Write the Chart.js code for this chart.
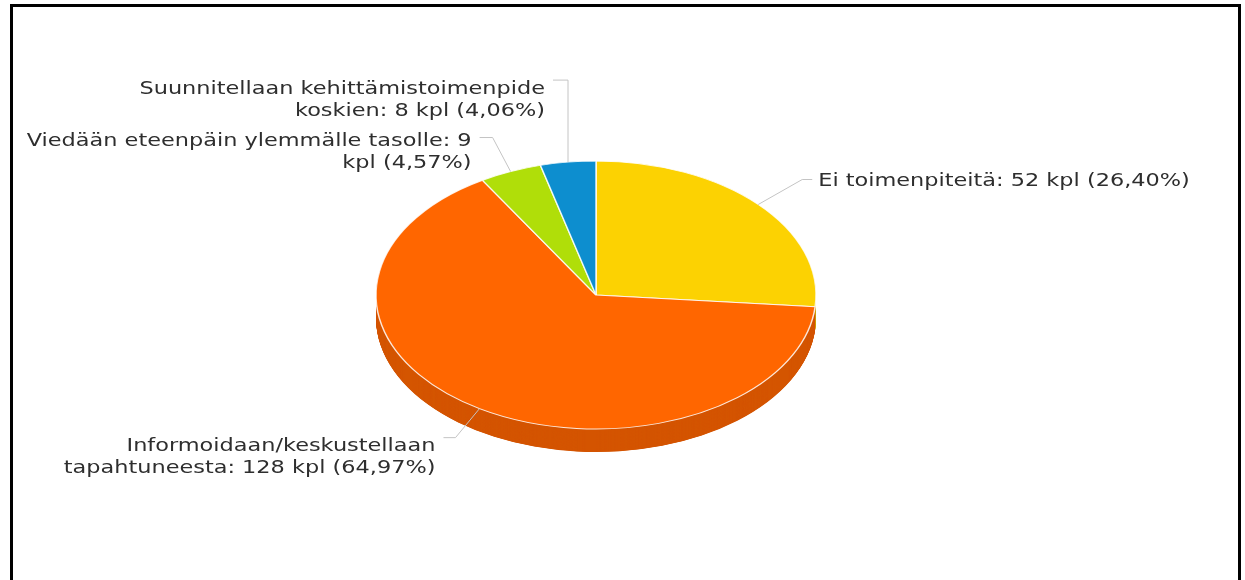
<!DOCTYPE html>
<html>
<head>
<meta charset="utf-8">
<script src="https://cdn.jsdelivr.net/npm/chart.js@4.4.1/dist/chart.umd.min.js"></script>
<style>
    html, body { margin: 0; padding: 0; background: #fff; overflow: hidden; }
    #wrap { position: relative; width: 1245px; height: 580px; }
    #frame {
        position: absolute; left: 10px; top: 4px; width: 1225px; height: 640px;
        border: 3px solid #000; box-sizing: content-box;
    }
    canvas { position: absolute; left: 0; top: 0; }
</style>
</head>
<body>
<div id="wrap">
    <div id="frame"></div>
    <canvas id="pie" width="1245" height="580"></canvas>
</div>
<script>
const categories = [
    'Ei toimenpiteitä',
    'Informoidaan/keskustellaan tapahtuneesta',
    'Viedään eteenpäin ylemmälle tasolle',
    'Suunnitellaan kehittämistoimenpide koskien',
];
const counts = [52, 128, 9, 8];
const percents = ['26,40%', '64,97%', '4,57%', '4,06%'];

const topColors = ['#FCD202', '#FF6600', '#B0DE09', '#0D8ECF'];
const sideColors = ['#CFAC02', '#D45500', '#90B607', '#0A74A9'];

// 3D look: squash the pie vertically and extrude it downwards
const TILT = 0.609;
const DEPTH = 23; // px on screen
const FONT = '18px "DejaVu Sans", Verdana, sans-serif';
const TEXT_SX = 1.245; // the source picture is stretched horizontally
const LINE_H = 22;
const WRAP_W = 455;

// leader line layout per slice: elbow offset from rim point, tick direction, text offsets
const labelLayout = [
    { dx: 44, dy: -25, tick: 10, textDy: 2 },
    { dx: -24, dy: 29, tick: -12, textDy: 9 },
    { dx: -18, dy: -34, tick: -13, textDy: 4 },
    { dx: 0, dy: -82, tick: -15, textDy: 9 },
];

function wrapText(ctx, text, maxW) {
    const words = text.split(' ');
    const lines = [];
    let cur = '';
    for (const w of words) {
        const test = cur ? cur + ' ' + w : w;
        if (cur && ctx.measureText(test).width * TEXT_SX > maxW) {
            lines.push(cur);
            cur = w;
        } else {
            cur = test;
        }
    }
    if (cur) lines.push(cur);
    return lines;
}

const pie3d = {
    id: 'pie3d',
    beforeDatasetsDraw(chart) {
        const ctx = chart.ctx;
        const arcs = chart.getDatasetMeta(0).data;
        if (!arcs.length) return;
        const cx = arcs[0].x, cy = arcs[0].y;
        ctx.save();
        ctx.translate(cx, cy);
        ctx.scale(1, TILT);
        ctx.translate(-cx, -cy);

        // side walls: stacked darker copies of each slice
        const depth = DEPTH / TILT;
        for (let d = depth; d >= 1; d -= 0.5) {
            arcs.forEach((a, i) => {
                ctx.beginPath();
                ctx.moveTo(cx, cy + d);
                ctx.arc(cx, cy + d, a.outerRadius, a.startAngle, a.endAngle);
                ctx.closePath();
                ctx.fillStyle = sideColors[i];
                ctx.fill();
            });
        }
    },
    afterDatasetsDraw(chart) {
        const ctx = chart.ctx;
        ctx.restore();

        const arcs = chart.getDatasetMeta(0).data;
        ctx.save();
        ctx.font = FONT;
        ctx.textBaseline = 'middle';
        arcs.forEach((a, i) => {
            const mid = (a.startAngle + a.endAngle) / 2;
            const rx = a.x + a.outerRadius * Math.cos(mid);
            const ry = a.y + a.outerRadius * TILT * Math.sin(mid);
            const L = labelLayout[i];
            const ex = rx + L.dx, ey = ry + L.dy;
            const tx = ex + L.tick;

            ctx.strokeStyle = '#c4c4c4';
            ctx.lineWidth = 1;
            ctx.beginPath();
            ctx.moveTo(rx, ry);
            ctx.lineTo(ex, ey);
            ctx.lineTo(tx, ey);
            ctx.stroke();

            const text = `${categories[i]}: ${counts[i]} kpl (${percents[i]})`;
            const lines = wrapText(ctx, text, WRAP_W);
            const right = L.tick < 0;
            ctx.textAlign = right ? 'right' : 'left';
            ctx.fillStyle = '#2e2e2e';
            const x = right ? tx - 8 : tx + 6;
            lines.forEach((ln, k) => {
                ctx.save();
                ctx.translate(x, ey + L.textDy + k * LINE_H);
                ctx.scale(TEXT_SX, 1);
                ctx.fillText(ln, 0, 0);
                ctx.restore();
            });
        });
        ctx.restore();
    },
};

new Chart(document.getElementById('pie'), {
    type: 'pie',
    data: {
        labels: categories,
        datasets: [{
            data: counts,
            backgroundColor: topColors,
            borderColor: 'rgba(255,255,255,0.85)',
            borderWidth: 1.5,
            radius: 220,
        }],
    },
    options: {
        responsive: false,
        animation: false,
        layout: {
            padding: { left: 376, right: 429, top: 75, bottom: 65 },
        },
        plugins: {
            legend: { display: false },
            tooltip: { enabled: false },
        },
    },
    plugins: [pie3d],
});
</script>
</body>
</html>
